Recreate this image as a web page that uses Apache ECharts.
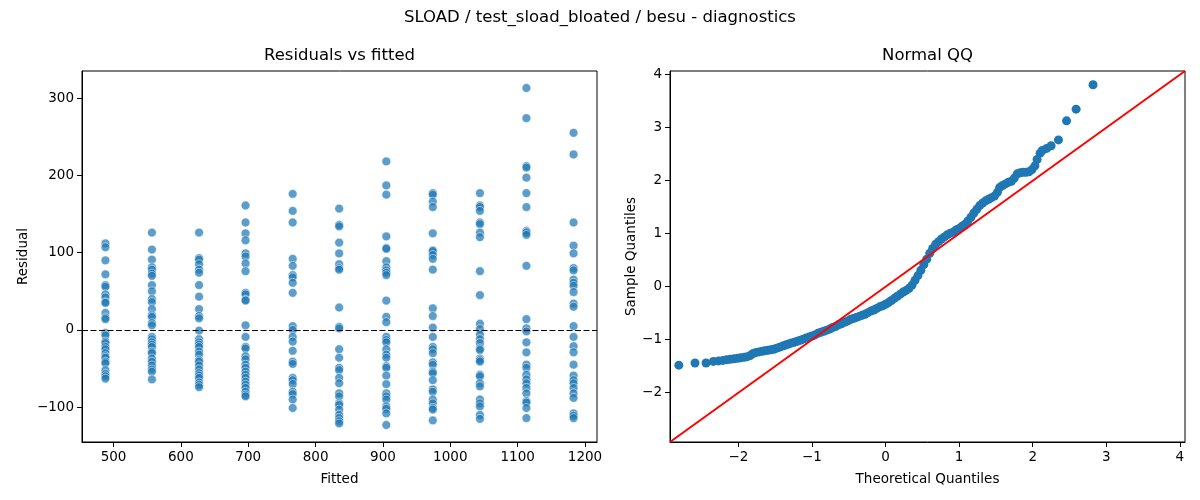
<!DOCTYPE html>
<html>
<head>
<meta charset="utf-8">
<script src="https://cdn.jsdelivr.net/npm/echarts@6/dist/echarts.min.js"></script>
<style>
  html, body { margin: 0; padding: 0; background: #fff; }
  #chart { width: 1200px; height: 500px; }
</style>
</head>
<body>
<div id="chart"></div>
<script>
// fitted levels (one column of residuals per level)
var fittedValues = [488, 557, 627, 696, 766, 835, 905, 974, 1044, 1113, 1183];

var residuals = [
  [112, 107, 90, 72, 58, 56, 46, 42, 36, 35, 22, 16, 14, -4, -7, -15, -17, -22, -25, -30, -34, -36, -41, -43, -52, -57, -60, -63],
  [126, 104, 91, 81, 78, 73, 70, 58, 50, 40, 36, 27, 19, 17, 9, 6, -9, -12, -16, -19, -22, -28, -30, -37, -41, -46, -51, -54, -64],
  [126, 93, 91, 85, 78, 74, 58, 43, 27, 18, 15, -1, -12, -16, -19, -22, -28, -32, -39, -41, -46, -51, -56, -59, -62, -68, -71, -74],
  [161, 139, 125, 116, 99, 95, 86, 76, 48, 46, 39, 38, 6, -9, -22, -24, -34, -38, -45, -49, -54, -58, -62, -67, -71, -75, -80, -84, -86],
  [176, 154, 139, 92, 83, 71, 68, 61, 48, 5, 0, -9, -15, -27, -41, -44, -62, -65, -70, -80, -83, -90, -101],
  [157, 136, 134, 113, 99, 85, 80, 78, 29, 4, 2, -25, -36, -49, -52, -62, -69, -82, -86, -95, -97, -103, -110, -114, -118, -121],
  [218, 187, 175, 121, 106, 105, 89, 81, 77, 74, 71, 38, 17, 10, -9, -13, -16, -25, -32, -36, -47, -49, -59, -70, -82, -86, -90, -99, -102, -108, -123],
  [177, 175, 166, 159, 125, 103, 102, 97, 92, 78, 28, 18, 3, -9, -22, -25, -30, -42, -45, -54, -56, -65, -77, -80, -90, -95, -101, -103, -117],
  [177, 161, 159, 154, 139, 137, 126, 120, 76, 45, 8, 1, -6, -12, -17, -24, -26, -37, -39, -41, -58, -60, -69, -73, -90, -95, -99, -110, -115],
  [313, 274, 212, 210, 197, 177, 159, 128, 126, 123, 83, 14, 2, -2, -16, -29, -45, -49, -58, -64, -69, -75, -82, -92, -94, -101, -114],
  [255, 227, 139, 109, 99, 80, 77, 65, 61, 57, 49, 34, 30, 5, -9, -21, -29, -45, -59, -65, -69, -75, -82, -88, -108, -111, -114]
];

// normal QQ
var theoreticalQ = [-2.81, -2.59, -2.44, -2.34, -2.27, -2.21, -2.16, -2.11, -2.06, -2.01, -1.97, -1.92, -1.88, -1.84, -1.80, -1.76, -1.72, -1.68, -1.64, -1.60,
  -1.56, -1.52, -1.48, -1.44, -1.40, -1.36, -1.32, -1.28, -1.24, -1.20, -1.16, -1.12, -1.08, -1.04, -1.00, -0.96, -0.92, -0.88, -0.84, -0.80,
  -0.76, -0.72, -0.68, -0.64, -0.60, -0.56, -0.52, -0.48, -0.44, -0.40, -0.36, -0.32, -0.28, -0.24, -0.20, -0.16, -0.12, -0.08, -0.04, 0.00,
  0.04, 0.08, 0.12, 0.16, 0.20, 0.24, 0.28, 0.32, 0.36, 0.40, 0.44, 0.48, 0.52, 0.56, 0.60, 0.64, 0.68, 0.72, 0.76, 0.80,
  0.84, 0.88, 0.92, 0.96, 1.00, 1.04, 1.08, 1.12, 1.16, 1.20, 1.24, 1.28, 1.32, 1.36, 1.40, 1.44, 1.48, 1.52, 1.55, 1.59,
  1.63, 1.67, 1.71, 1.75, 1.79, 1.83, 1.87, 1.91, 1.95, 1.99, 2.03, 2.06, 2.10, 2.13, 2.19, 2.25, 2.35, 2.46, 2.59, 2.82];
var sampleQ = [-1.48, -1.44, -1.44, -1.41, -1.40, -1.39, -1.38, -1.37, -1.36, -1.35, -1.34, -1.33, -1.32, -1.30, -1.26, -1.24, -1.23, -1.22, -1.21, -1.20,
  -1.19, -1.18, -1.16, -1.14, -1.12, -1.10, -1.08, -1.06, -1.05, -1.03, -1.01, -0.99, -0.97, -0.95, -0.93, -0.91, -0.88, -0.86, -0.84, -0.82,
  -0.80, -0.77, -0.75, -0.72, -0.70, -0.67, -0.65, -0.62, -0.60, -0.58, -0.56, -0.54, -0.52, -0.49, -0.46, -0.44, -0.41, -0.38, -0.36, -0.33,
  -0.30, -0.26, -0.22, -0.18, -0.14, -0.10, -0.07, -0.03, 0.03, 0.12, 0.21, 0.31, 0.42, 0.52, 0.63, 0.72, 0.80, 0.85, 0.90, 0.94,
  0.98, 1.01, 1.03, 1.07, 1.10, 1.14, 1.18, 1.24, 1.31, 1.39, 1.46, 1.53, 1.58, 1.62, 1.65, 1.68, 1.71, 1.78, 1.87, 1.91,
  1.94, 1.97, 1.99, 2.05, 2.13, 2.15, 2.16, 2.16, 2.17, 2.21, 2.28, 2.40, 2.52, 2.57, 2.61, 2.66, 2.77, 3.13, 3.35, 3.81];

var fittedTicks = [500, 600, 700, 800, 900, 1000, 1100, 1200];
var residualTicks = [-100, 0, 100, 200, 300];
var qqTicks = [-2, -1, 0, 1, 2, 3, 4];
var fittedRange = [453.2, 1217.8];
var residualRange = [-145, 335];
var qqRange = [-2.93, 4.07];

var residPoints = [];
fittedValues.forEach(function(f, i){
	residuals[i].forEach(function(r){ residPoints.push([f, r]); });
});
var qqPoints = theoreticalQ.map(function(t, i){ return [t, sampleQ[i]]; });

var FONT = 'DejaVu Sans';
var minus = function(v){ return String(v).replace('-', '\u2212'); };

var makeAxis = function(gridIndex, range, ticks, name, nameGap, isY){
	return {
		type: 'value',
		gridIndex: gridIndex,
		min: range[0],
		max: range[1],
		name: name,
		nameLocation: 'middle',
		nameGap: nameGap,
		nameTextStyle: { fontFamily: FONT, fontSize: 13.5, color: '#000' },
		axisLine: { show: true, onZero: false, lineStyle: { color: '#000', width: 1 } },
		axisTick: { show: true, length: 5, customValues: ticks, lineStyle: { color: '#000', width: 1 } },
		axisLabel: { customValues: ticks, formatter: minus, fontFamily: FONT, fontSize: 13.5, color: '#000', margin: 8,
		             padding: isY ? [4, 0, 0, 0] : 0 },
		splitLine: { show: false }
	};
};

var dom = document.getElementById('chart');
var myChart = echarts.init(dom);
var option = {
	backgroundColor: '#fff',
	animation: false,
	title: [
		{ text: 'SLOAD / test_sload_bloated / besu - diagnostics', left: 600, top: 9, textAlign: 'center', padding: 0,
		  textStyle: { fontFamily: FONT, fontSize: 16.5, fontWeight: 'normal', color: '#000' } },
		{ text: 'Residuals vs fitted', left: 339.5, top: 47, textAlign: 'center', padding: 0,
		  textStyle: { fontFamily: FONT, fontSize: 16.5, fontWeight: 'normal', color: '#000' } },
		{ text: 'Normal QQ', left: 927.5, top: 47, textAlign: 'center', padding: 0,
		  textStyle: { fontFamily: FONT, fontSize: 16.5, fontWeight: 'normal', color: '#000' } }
	],
	grid: [
		{ left: 82, top: 71, width: 515, height: 371, show: true, borderColor: '#000', borderWidth: 1, backgroundColor: 'transparent' },
		{ left: 670, top: 71, width: 515, height: 371, show: true, borderColor: '#000', borderWidth: 1, backgroundColor: 'transparent' }
	],
	xAxis: [
		makeAxis(0, fittedRange, fittedTicks, 'Fitted', 30, false),
		makeAxis(1, qqRange, qqTicks, 'Theoretical Quantiles', 30, false)
	],
	yAxis: [
		makeAxis(0, residualRange, residualTicks, 'Residual', 52, true),
		makeAxis(1, qqRange, qqTicks, 'Sample Quantiles', 30, true)
	],
	series: [
		{
			name: 'residuals',
			type: 'scatter',
			xAxisIndex: 0,
			yAxisIndex: 0,
			symbolSize: 8.8,
			data: residPoints,
			itemStyle: { color: '#1f77b4', opacity: 0.72, borderColor: '#fff', borderWidth: 0.7 },
			markLine: {
				silent: true,
				symbol: 'none',
				label: { show: false },
				lineStyle: { color: '#000', width: 1.2, type: [6, 2.5] },
				data: [{ yAxis: 0 }]
			}
		},
		{
			name: 'qq',
			type: 'scatter',
			xAxisIndex: 1,
			yAxisIndex: 1,
			symbolSize: 9,
			data: qqPoints,
			itemStyle: { color: '#1f77b4', opacity: 1 }
		},
		{
			name: '45 line',
			type: 'line',
			xAxisIndex: 1,
			yAxisIndex: 1,
			showSymbol: false,
			symbol: 'none',
			data: [[qqRange[0], qqRange[0]], [qqRange[1], qqRange[1]]],
			lineStyle: { color: '#ff0000', width: 2 },
			z: 3
		}
	]
};

if (option && typeof option === "object") {
	myChart.setOption(option, true);
}
</script>
</body>
</html>
